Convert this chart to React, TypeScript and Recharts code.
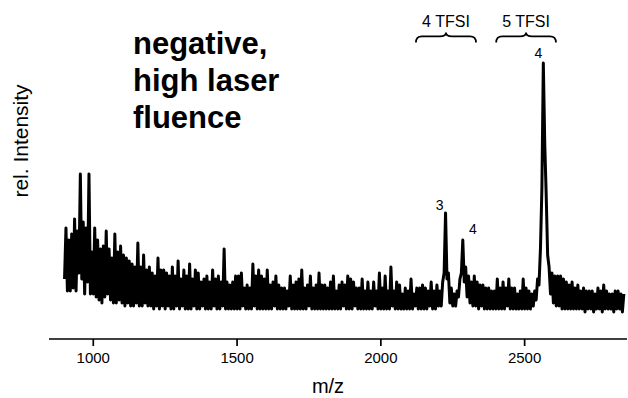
import { LineChart, Line, XAxis, YAxis, ReferenceArea, ReferenceDot, Customized } from "recharts"

const font = "'Liberation Sans', Arial, Helvetica, sans-serif"

// channel grid of the spectrum (m/z)
const mzStart = 900
const mzStep = 5

// intensities on channels m/z = 900, 910, 920 ... 2840
const evenBins = [
  20, 16, 16, 17, 16, 22, 20, 15, 19, 15,
  15, 14, 13, 12, 14, 15, 13, 12, 12, 13,
  12, 11, 12, 11, 11, 12, 11, 11, 12, 11,
  11, 10, 11, 10, 11, 10, 11, 10, 10, 11,
  10, 11, 10, 10, 10, 11, 10, 10, 11, 10,
  10, 10, 11, 10, 10, 11, 10, 10, 10, 10,
  10, 10, 11, 10, 10, 10, 11, 10, 10, 10,
  10, 10, 10, 11, 10, 10, 10, 10, 11, 10,
  10, 10, 10, 10, 10, 11, 10, 10, 10, 10,
  10, 10, 10, 10, 10, 10, 10, 11, 10, 10,
  10, 11, 10, 10, 10, 10, 10, 10, 11, 10,
  10, 10, 10, 10, 11, 10, 10, 10, 10, 10,
  10, 10, 11, 10, 10, 10, 10, 11, 10, 10,
  11, 11, 22, 20, 12, 11, 11, 14, 22, 19,
  14, 12, 11, 11, 10, 11, 10, 10, 10, 10,
  10, 10, 10, 10, 11, 10, 10, 10, 10, 10,
  10, 10, 10, 11, 13, 18, 50, 65, 28, 15,
  12, 11, 11, 10, 10, 10, 10, 10, 10, 10,
  10, 9, 10, 10, 9, 10, 10, 9, 10, 10,
  10, 9, 10, 10, 9,
]

// intensities on channels m/z = 905, 915, 925 ... 2845
const oddBins = [
  37, 33, 35, 40, 36, 55, 39, 37, 55, 29,
  37, 33, 30, 31, 36, 30, 27, 35, 29, 31,
  28, 27, 26, 25, 24, 32, 24, 28, 23, 24,
  22, 21, 27, 23, 23, 22, 21, 24, 21, 26,
  20, 23, 21, 25, 20, 23, 22, 19, 20, 21,
  19, 23, 20, 21, 19, 30, 19, 18, 19, 21,
  21, 22, 17, 18, 17, 25, 21, 23, 21, 20,
  23, 18, 19, 21, 18, 17, 17, 16, 21, 18,
  19, 20, 23, 17, 18, 21, 17, 18, 22, 18,
  18, 17, 19, 21, 16, 18, 19, 18, 21, 20,
  19, 17, 17, 20, 16, 19, 16, 19, 16, 22,
  17, 21, 16, 24, 16, 19, 18, 15, 17, 16,
  20, 15, 17, 17, 18, 17, 16, 19, 16, 18,
  16, 19, 42, 22, 17, 15, 16, 20, 33, 24,
  21, 19, 21, 19, 18, 18, 17, 17, 16, 16,
  20, 17, 19, 17, 20, 17, 17, 15, 16, 20,
  17, 16, 15, 16, 20, 30, 92, 48, 24, 22,
  21, 21, 21, 20, 19, 18, 19, 17, 18, 16,
  17, 16, 16, 16, 15, 17, 16, 18, 16, 15,
  15, 16, 16, 15, 15,
]

const mzTicks = [1000, 1500, 2000, 2500]

// cluster groups marked with braces above the plot
const clusters = [
  { name: "4 TFSI", from: 2122, to: 2331 },
  { name: "5 TFSI", from: 2401, to: 2609 },
]

// peak assignments
const peaks = [
  { mz: 2225, text: "3" },
  { mz: 2285, text: "4" },
  { mz: 2565, text: "4" },
]

const spectrum = evenBins.flatMap((v, i) => [
  { mz: mzStart + i * 2 * mzStep, intensity: v },
  { mz: mzStart + (i * 2 + 1) * mzStep, intensity: oddBins[i] },
])

const intensityAt = (mz: number) => spectrum.find((p) => p.mz === mz)?.intensity ?? 0

// label nudges (px) relative to each peak top
const peakLabelOffset = [
  { dx: -6, dy: -8 },
  { dx: 10, dy: -11 },
  { dx: -5, dy: -10 },
]

function Brace({ x, y, width, height, text }: any) {
  const x0 = x
  const x1 = x + width
  const xm = x + width / 2
  const yb = y + height * 0.38
  const ye = y + height
  const r = 6
  const d =
    `M${x0},${ye} Q${x0},${yb} ${x0 + r},${yb} L${xm - r},${yb} Q${xm},${yb} ${xm},${y} ` +
    `Q${xm},${yb} ${xm + r},${yb} L${x1 - r},${yb} Q${x1},${yb} ${x1},${ye}`
  return (
    <g>
      <path d={d} fill="none" stroke="#000" strokeWidth={1.7} />
      <text x={xm} y={y - 5} textAnchor="middle" fontSize={16} fontFamily={font} fill="#000">
        {text}
      </text>
    </g>
  )
}

const Annotations = () => (
  <g fontFamily={font} fill="#000">
    <text x={133} y={54} fontSize={31} fontWeight="bold">negative,</text>
    <text x={133} y={91} fontSize={31} fontWeight="bold">high laser</text>
    <text x={133} y={128} fontSize={31} fontWeight="bold">fluence</text>
    <text transform="translate(28,141) rotate(-90)" textAnchor="middle" fontSize={21}>
      rel. Intensity
    </text>
    <text x={328} y={393} textAnchor="middle" fontSize={20}>m/z</text>
  </g>
)

export default function App() {
  return (
    <div style={{ position: "absolute", left: 0, top: 0, background: "#fff" }}>
      <LineChart
        width={628}
        height={398}
        data={spectrum}
        margin={{ top: 39, right: 1, bottom: 29, left: 49 }}
      >
        <XAxis
          type="number"
          dataKey="mz"
          domain={[846, 2856]}
          ticks={mzTicks}
          allowDataOverflow
          height={30}
          tickSize={7}
          tickMargin={6}
          axisLine={{ stroke: "#000", strokeWidth: 1.7 }}
          tickLine={{ stroke: "#000", strokeWidth: 1.7 }}
          tick={{ fill: "#000", fontSize: 15, fontFamily: font }}
        />
        <YAxis
          type="number"
          domain={[0, 100]}
          allowDataOverflow
          width={0}
          tick={false}
          tickLine={false}
          axisLine={{ stroke: "#000", strokeWidth: 1.7 }}
        />
        <Line
          type="linear"
          dataKey="intensity"
          stroke="#000"
          strokeWidth={3}
          strokeLinejoin="round"
          dot={false}
          isAnimationActive={false}
        />
        {clusters.map((c) => (
          <ReferenceArea
            key={c.name}
            x1={c.from}
            x2={c.to}
            y1={98.8}
            y2={102.2}
            ifOverflow="visible"
            shape={(p: any) => <Brace {...p} text={c.name} />}
          />
        ))}
        {peaks.map((pk, i) => (
          <ReferenceDot
            key={`${pk.mz}-${pk.text}`}
            x={pk.mz}
            y={intensityAt(pk.mz)}
            r={0}
            ifOverflow="visible"
            shape={(p: any) => (
              <text
                x={p.cx + peakLabelOffset[i].dx}
                y={p.cy + peakLabelOffset[i].dy}
                textAnchor="middle"
                dominantBaseline="central"
                fontSize={14}
                fontFamily={font}
                fill="#000"
              >
                {pk.text}
              </text>
            )}
          />
        ))}
        <Customized component={Annotations} />
      </LineChart>
    </div>
  )
}
